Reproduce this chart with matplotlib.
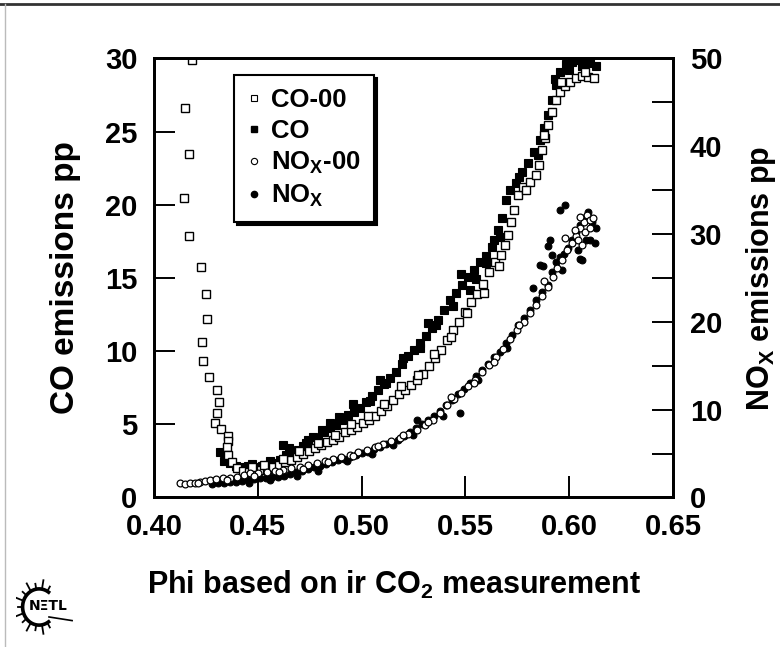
import matplotlib
matplotlib.use("Agg")
import matplotlib.pyplot as plt
from matplotlib.lines import Line2D
import numpy as np

plt.rcParams['font.family'] = ['Liberation Sans', 'DejaVu Sans']
plt.rcParams['font.weight'] = 'bold'
plt.rcParams['mathtext.fontset'] = 'custom'
plt.rcParams['mathtext.rm'] = 'Liberation Sans:bold'
plt.rcParams['mathtext.it'] = 'Liberation Sans:bold'
plt.rcParams['mathtext.bf'] = 'Liberation Sans:bold'

# ---------------- data ----------------
co00_phi = [0.4183, 0.4149, 0.4169, 0.4145, 0.4169, 0.4226, 0.4250, 0.4255, 0.4231, 0.4236,
            0.4265, 0.4303, 0.4313, 0.4303, 0.4294, 0.4323, 0.4356, 0.4356, 0.4352,
            0.4356, 0.4376, 0.4400, 0.4429, 0.4458, 0.4487, 0.4516, 0.4545, 0.4573, 0.4602,
            0.4631, 0.4660, 0.4689, 0.4718, 0.4747, 0.4775, 0.4804, 0.4833, 0.4862, 0.4891,
            0.4920, 0.4949, 0.4978, 0.5007, 0.5036, 0.5065, 0.5093, 0.5122, 0.5151, 0.5180,
            0.5209, 0.5238, 0.5267, 0.5296, 0.5325, 0.5354, 0.5382, 0.5411, 0.5440, 0.5469,
            0.5498, 0.5527, 0.5556, 0.5585, 0.5614, 0.5643, 0.5671, 0.5691, 0.5705, 0.5720,
            0.5734, 0.5753, 0.5777, 0.5811, 0.5840, 0.5855, 0.5869, 0.5883, 0.5898, 0.5917,
            0.5936, 0.5956, 0.5980, 0.6004, 0.6033, 0.6062, 0.6091, 0.6119,
            0.4470, 0.4530, 0.4620, 0.4700, 0.4790, 0.4870, 0.4950, 0.5030, 0.5110, 0.5190,
            0.5270, 0.5350, 0.5430, 0.5510, 0.5590, 0.5660, 0.5790, 0.5880, 0.5960, 0.6075]
co00_val = [29.9, 26.6, 23.5, 20.5, 17.9, 15.75, 13.9, 12.2, 10.6, 9.33,
            8.23, 7.35, 6.53, 5.77, 5.09, 4.68, 4.20, 3.86, 3.45,
            2.90, 2.43, 2.02, 1.81, 1.74, 1.81, 1.88, 1.95, 2.08, 2.22,
            2.43, 2.56, 2.77, 2.97, 3.18, 3.38, 3.59, 3.79, 3.93, 4.13,
            4.48, 4.61, 4.82, 5.09, 5.30, 5.57, 5.91, 6.25, 6.66, 7.07,
            7.35, 7.69, 8.03, 8.44, 8.99, 9.53, 10.08, 10.76, 11.45, 11.99,
            12.68, 13.36, 13.91, 14.59, 15.41, 16.09, 16.57, 17.26, 17.94, 18.83,
            19.65, 20.67, 21.22, 21.56, 22.04, 22.72, 23.75, 24.57, 25.46, 26.34,
            27.16, 27.71, 28.12, 28.39, 28.67, 28.80, 28.74, 28.67,
            2.10, 2.20, 2.60, 3.20, 3.70, 4.30, 5.00, 5.60, 6.40, 7.60,
            8.40, 9.80, 11.00, 12.60, 14.00, 15.80, 21.00, 24.80, 28.40, 29.10]

co_phi = [0.4318, 0.4342, 0.4366, 0.4395, 0.4424, 0.4453, 0.4487, 0.4520, 0.4549, 0.4583,
          0.4607, 0.4636, 0.4665, 0.4694, 0.4718, 0.4742, 0.4766, 0.4790, 0.4819, 0.4848,
          0.4877, 0.4906, 0.4934, 0.4963, 0.4992, 0.5021, 0.5050, 0.5079, 0.5108, 0.5137,
          0.5166, 0.5195, 0.5224, 0.5252, 0.5281, 0.5310, 0.5339, 0.5368, 0.5397, 0.5426,
          0.5455, 0.5484, 0.5513, 0.5541, 0.5570, 0.5599, 0.5628, 0.5657, 0.5676, 0.5696,
          0.5715, 0.5744, 0.5773, 0.5802, 0.5830, 0.5859, 0.5879, 0.5898, 0.5917, 0.5936,
          0.5956, 0.5985, 0.6013, 0.6042, 0.6071, 0.6100, 0.6129,
          0.4335, 0.4410, 0.4470, 0.4560, 0.4650, 0.4730, 0.4810, 0.4890, 0.4960, 0.5040,
          0.5120, 0.5200, 0.5280, 0.5360, 0.5440, 0.5520, 0.5600, 0.5665, 0.5760, 0.5850,
          0.5930, 0.6000, 0.6060, 0.4620, 0.4850, 0.5090, 0.5320, 0.5480, 0.5550, 0.5640]
co_val = [3.11, 2.70, 2.36, 2.15, 2.08, 2.15, 2.08, 2.15, 2.22, 2.36,
          2.56, 2.90, 3.11, 3.25, 3.52, 3.93, 4.13, 4.07, 4.48, 4.75,
          4.95, 5.30, 5.64, 5.84, 6.12, 6.53, 6.94, 7.35, 7.76, 8.17,
          8.58, 9.12, 9.67, 10.08, 10.56, 11.04, 11.58, 12.13, 12.81, 13.50,
          13.98, 14.52, 15.07, 15.55, 16.09, 16.50, 17.12, 18.28, 19.10, 20.33,
          21.01, 21.49, 22.24, 22.86, 23.61, 24.43, 25.25, 26.14, 27.16, 28.19,
          29.08, 29.62, 29.76, 29.90, 29.76, 29.69, 29.49,
          2.50, 2.00, 2.30, 2.50, 3.40, 3.70, 4.60, 5.50, 6.40, 6.60,
          7.80, 9.50, 10.20, 11.80, 13.10, 14.20, 16.00, 17.80, 21.90, 23.40,
          28.60, 29.20, 29.50, 3.60, 5.10, 8.00, 11.90, 15.30, 14.90, 17.60]

nox00_phi = [0.4125, 0.4149, 0.4173, 0.4197, 0.4222, 0.4246, 0.4270, 0.4299, 0.4332, 0.4366,
             0.4400, 0.4434, 0.4462, 0.4501, 0.4544, 0.4583, 0.4621, 0.4660, 0.4703, 0.4742,
             0.4785, 0.4824, 0.4862, 0.4901, 0.4944, 0.4983, 0.5026, 0.5065, 0.5103, 0.5142,
             0.5185, 0.5224, 0.5267, 0.5306, 0.5345, 0.5378, 0.5411, 0.5445, 0.5479, 0.5513,
             0.5546, 0.5580, 0.5614, 0.5647, 0.5681, 0.5715, 0.5749, 0.5782, 0.5811, 0.5840,
             0.5869, 0.5898, 0.5922, 0.5941, 0.5965, 0.5989, 0.6013, 0.6033, 0.6052, 0.6071,
             0.6086, 0.6100, 0.6076, 0.6042, 0.6062, 0.6100, 0.6115, 0.6028,
             0.4210, 0.4350, 0.4480, 0.4600, 0.4720, 0.4840, 0.4960, 0.5080, 0.5200, 0.5320,
             0.5430, 0.5540, 0.5640, 0.5760, 0.5880, 0.5980, 0.6050]
nox00_val = [1.65, 1.54, 1.65, 1.65, 1.77, 1.88, 1.99, 2.11, 2.22, 2.22,
             2.33, 2.56, 2.79, 2.79, 2.90, 3.02, 3.13, 3.36, 3.47, 3.70,
             3.93, 4.16, 4.38, 4.61, 4.84, 5.18, 5.41, 5.75, 6.09, 6.44,
             6.78, 7.23, 7.69, 8.26, 8.83, 9.62, 10.54, 11.22, 11.90, 12.70,
             13.38, 14.29, 15.09, 16.00, 16.91, 18.05, 19.08, 19.99, 21.01, 21.92,
             22.95, 23.98, 25.11, 26.14, 27.05, 28.19, 28.99, 29.78, 30.69, 31.38,
             32.18, 31.61, 30.24, 29.33, 28.76, 30.69, 31.83, 30.47,
             1.70, 2.00, 2.50, 2.90, 3.30, 4.00, 4.70, 5.90, 7.10, 8.60,
             11.40, 13.00, 15.40, 19.60, 24.60, 29.60, 31.90]

nox_phi = [0.4279, 0.4308, 0.4337, 0.4366, 0.4395, 0.4424, 0.4453, 0.4482, 0.4511, 0.4540,
           0.4568, 0.4597, 0.4626, 0.4655, 0.4684, 0.4713, 0.4742, 0.4771, 0.4800, 0.4829,
           0.4857, 0.4886, 0.4915, 0.4944, 0.4973, 0.5002, 0.5031, 0.5060, 0.5089, 0.5118,
           0.5146, 0.5175, 0.5204, 0.5233, 0.5262, 0.5291, 0.5320, 0.5349, 0.5378, 0.5407,
           0.5435, 0.5464, 0.5493, 0.5522, 0.5551, 0.5580, 0.5609, 0.5638, 0.5667, 0.5696,
           0.5724, 0.5753, 0.5782, 0.5811, 0.5840, 0.5869, 0.5898, 0.5917, 0.5936, 0.5956,
           0.5975, 0.5994, 0.6013, 0.6033, 0.6052, 0.6071, 0.6091, 0.6110, 0.6129, 0.6081,
           0.6062, 0.5956, 0.5980, 0.6100, 0.6124, 0.6042, 0.5898, 0.5859, 0.5908, 0.5917,
           0.5874, 0.5826, 0.5965, 0.6052, 0.5474, 0.5267, 0.4460, 0.4560, 0.4690, 0.4790,
           0.4930, 0.5050, 0.5150, 0.5250, 0.5390, 0.5560, 0.5700]
nox_val = [1.54, 1.65, 1.65, 1.77, 1.77, 1.88, 1.99, 2.11, 2.22, 2.22,
           2.33, 2.33, 2.45, 2.68, 2.90, 3.02, 3.25, 3.47, 3.59, 3.82,
           4.04, 4.27, 4.38, 4.61, 4.84, 5.07, 5.18, 5.52, 5.75, 6.09,
           6.21, 6.55, 7.00, 7.46, 7.92, 8.37, 8.83, 9.28, 9.85, 10.54,
           11.10, 11.79, 12.36, 13.04, 13.84, 14.52, 15.21, 16.00, 16.57, 17.60,
           18.51, 19.65, 20.44, 21.36, 22.49, 23.41, 24.20, 25.68, 26.82, 27.39,
           27.73, 28.42, 29.33, 30.24, 31.04, 31.83, 32.52, 31.38, 30.69, 29.33,
           27.05, 32.74, 33.31, 29.33, 28.99, 28.19, 28.64, 26.48, 29.33, 27.62,
           26.37, 23.86, 25.91, 27.16, 9.62, 8.83, 1.70, 2.00, 2.50, 3.00,
           4.10, 5.00, 6.00, 7.10, 9.30, 13.40, 17.00]

legend_labels = ['CO-00', 'CO', 'NO$_X$-00', 'NO$_X$']

# ---------------- figure ----------------
fig = plt.figure(figsize=(7.8, 6.47), dpi=100)
ax = fig.add_axes([0.1974, 0.2311, 0.6654, 0.6785])
ax2 = ax.twinx()

ms_sq = 6.4
ms_ci = 4.9
ax.plot(co_phi, co_val, 's', ms=ms_sq, mfc='black', mec='black', mew=0.8, ls='none')
ax.plot(co00_phi, co00_val, 's', ms=ms_sq - 0.6, mfc='white', mec='black', mew=1.0, ls='none')
ax2.plot(nox_phi, nox_val, 'o', ms=ms_ci, mfc='black', mec='black', mew=0.8, ls='none')
ax2.plot(nox00_phi, nox00_val, 'o', ms=ms_ci, mfc='white', mec='black', mew=0.9, ls='none')

ax.set_xlim(0.40, 0.65)
ax.set_ylim(0, 30)
ax2.set_ylim(0, 50)

ax.set_xticks([0.40, 0.45, 0.50, 0.55, 0.60, 0.65])
ax.set_xticklabels(['0.40', '0.45', '0.50', '0.55', '0.60', '0.65'])
ax.set_yticks([0, 5, 10, 15, 20, 25, 30])
ax2.set_yticks([0, 10, 20, 30, 40, 50])
ax2.set_yticks([5, 15, 25, 35, 45], minor=True)

tick_fs = 21
for a in (ax, ax2):
    for s in a.spines.values():
        s.set_linewidth(2)
ax.tick_params(axis='both', direction='in', length=15, width=1.4, labelsize=tick_fs, top=False, right=False)
ax.tick_params(axis='y', pad=12)
ax.tick_params(axis='x', pad=11)
ax2.tick_params(axis='y', which='both', direction='in', length=15, width=1.4, labelsize=tick_fs, pad=12)

for lbl in ax.get_xticklabels() + ax.get_yticklabels() + ax2.get_yticklabels():
    lbl.set_fontweight('bold')

ax.set_ylabel('CO emissions pp', fontsize=24, fontweight='bold', labelpad=17)
ax2.set_ylabel('NO$_X$ emissions pp', fontsize=22, fontweight='bold', labelpad=16)
ax.set_xlabel('Phi based on ir CO$_2$ measurement', fontsize=22, fontweight='bold', labelpad=17)
ax.xaxis.set_label_coords(0.462, -0.162)

handles = [
    Line2D([], [], marker='s', ms=4.5, mfc='white', mec='black', mew=0.8, ls='none'),
    Line2D([], [], marker='s', ms=4.5, mfc='black', mec='black', ls='none'),
    Line2D([], [], marker='o', ms=4.5, mfc='white', mec='black', mew=0.8, ls='none'),
    Line2D([], [], marker='o', ms=4.5, mfc='black', mec='black', ls='none'),
]
leg = ax2.legend(handles, legend_labels, loc='upper left', bbox_to_anchor=(0.154, 0.962),
                 borderaxespad=0, fancybox=False, frameon=True, framealpha=1,
                 edgecolor='black', shadow={'color': 'black', 'alpha': 1.0},
                 prop={'size': 18.5, 'weight': 'bold'}, handlelength=0.6, handletextpad=0.35,
                 labelspacing=0.27, borderpad=0.5)
leg.get_frame().set_linewidth(1.5)

# slide border lines
fig.add_artist(Line2D([0, 1], [1 - 3.5 / 647] * 2, color='#333333', lw=2))
fig.add_artist(Line2D([5 / 780] * 2, [0, 1 - 3.5 / 647], color='#bbbbbb', lw=1))

# NETL logo
lax = fig.add_axes([16 / 780, 1 - 636 / 647, 66 / 780, 58 / 647])
lax.set_xlim(-1.4, 2.6)
lax.set_ylim(-1.6, 1.6)
lax.axis('off')
th = np.linspace(np.radians(55), np.radians(305), 60)
lax.plot(np.cos(th), np.sin(th), color='black', lw=2.6)
for ang in np.linspace(60, 300, 13):
    r1 = 1.5 if int(round(ang)) % 40 == 0 else 1.3
    a = np.radians(ang)
    lax.plot([np.cos(a), r1 * np.cos(a)], [np.sin(a), r1 * np.sin(a)], color='black', lw=1.3)
lax.plot([0.6, 2.0], [-0.55, -0.75], color='black', lw=1.2)
lax.text(-0.6, 0.05, 'N\u039eTL', fontsize=10, fontweight='bold', va='center', ha='left',
         family=['DejaVu Sans'])

fig.savefig('out.png', dpi=100)
